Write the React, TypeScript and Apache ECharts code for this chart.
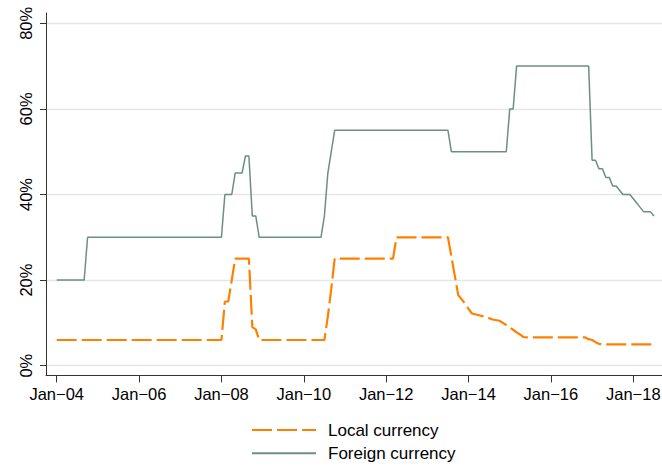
import React, { useEffect, useRef } from "react";
import * as echarts from "echarts";

// Months counted from Jan-2004 (0 = Jan-04)
const localMonths = [0, 48, 49, 50, 51, 52, 56, 57, 58, 59, 78, 79, 80, 81, 98, 99, 114, 115, 116, 117, 118, 119, 120, 121, 123, 125, 127, 129, 130, 131, 132, 133, 134, 135, 136, 137, 154, 155, 156, 157, 158, 159, 174];
const localValues = [6, 6, 15, 15, 20, 25, 25, 9, 8.5, 6, 6, 11.5, 18, 25, 25, 30, 30, 25.5, 21, 16.5, 15.5, 14.5, 13.3, 12.2, 11.8, 11.4, 10.8, 10.5, 10, 9.5, 8.9, 8.4, 7.8, 7.3, 6.7, 6.6, 6.6, 6.2, 6, 5.5, 5.1, 5, 5];

const foreignMonths = [0, 8, 9, 48, 49, 51, 52, 54, 55, 56, 57, 58, 59, 77, 78, 79, 80, 81, 114, 115, 131, 132, 133, 134, 155, 156, 157, 158, 159, 160, 161, 162, 163, 164, 165, 167, 168, 169, 170, 171, 173, 174];
const foreignValues = [20, 20, 30, 30, 40, 40, 45, 45, 49, 49, 35, 35, 30, 30, 35, 45, 50, 55, 55, 50, 50, 60, 60, 70, 70, 48, 48, 46, 46, 44, 44, 42, 42, 41, 40, 40, 39, 38, 37, 36, 36, 35];

const xTickMonths = [0, 24, 48, 72, 96, 120, 144, 168];
const xTickLabels = ["Jan\u221204", "Jan\u221206", "Jan\u221208", "Jan\u221210", "Jan\u221212", "Jan\u221214", "Jan\u221216", "Jan\u221218"];
const yTickValues = [0, 20, 40, 60, 80];

const seriesNames = ["Local currency", "Foreign currency"];

const FONT = "'Liberation Sans', Arial, Helvetica, sans-serif";

export default function App() {
  const ref = useRef<HTMLDivElement>(null);
  useEffect(() => {
    if (!ref.current) return;
    const chart = echarts.init(ref.current, null, { renderer: "svg" });
    const pair = (ms: number[], vs: number[]) => ms.map((m, i) => [m, vs[i]]);
    chart.setOption({
      animation: false,
      backgroundColor: "#ffffff",
      textStyle: { fontFamily: FONT },
      grid: {
        left: 46,
        top: 13,
        width: 618,
        height: 362.7,
        outerBoundsMode: "none",
        containLabel: false,
      },
      xAxis: {
        type: "value",
        min: -3.118,
        max: 176.95,
        axisLine: { show: true, onZero: false, lineStyle: { color: "#333", width: 1 } },
        axisTick: { show: true, length: 6.7, customValues: xTickMonths, lineStyle: { color: "#333", width: 1 } },
        axisLabel: {
          show: true,
          customValues: xTickMonths,
          margin: 10,
          color: "#000",
          fontSize: 16.5,
          fontFamily: FONT,
          formatter: (v: number) => {
            const i = xTickMonths.indexOf(Math.round(v));
            return i >= 0 ? xTickLabels[i] : "";
          },
        },
        splitLine: { show: false },
      },
      yAxis: {
        type: "value",
        min: -2.336,
        max: 82.41,
        axisLine: { show: true, onZero: false, lineStyle: { color: "#333", width: 1 } },
        axisTick: { show: true, length: 6, customValues: yTickValues, lineStyle: { color: "#333", width: 1 } },
        axisLabel: {
          show: true,
          customValues: yTickValues,
          rotate: 90,
          margin: 12,
          color: "#000",
          fontSize: 16.5,
          fontFamily: FONT,
          formatter: (v: number) => `${Math.round(v)}%`,
        },
        splitLine: { show: true, lineStyle: { color: "#e6e6e6", width: 1.3 } },
      },
      legend: {
        orient: "vertical",
        left: 251,
        top: 421.5,
        padding: 0,
        itemWidth: 64,
        itemHeight: 12,
        itemGap: 6.3,
        itemStyle: { opacity: 0, borderWidth: 0 },
        lineStyle: { opacity: 1 },
        textStyle: { fontSize: 17, color: "#000", fontFamily: FONT, padding: [0, 0, 0, 7] },
        data: seriesNames,
      },
      series: [
        {
          name: seriesNames[0],
          type: "line",
          data: pair(localMonths, localValues),
          symbol: "none",
          showSymbol: false,
          lineStyle: { color: "#ff8000", width: 2.2, type: [20, 5] },
          itemStyle: { color: "#ff8000" },
          z: 3,
        },
        {
          name: seriesNames[1],
          type: "line",
          data: pair(foreignMonths, foreignValues),
          symbol: "none",
          showSymbol: false,
          lineStyle: { color: "#6b8f83", width: 1.5, type: "solid" },
          itemStyle: { color: "#6b8f83" },
          z: 3,
        },
      ],
    });
    return () => chart.dispose();
  }, []);
  return (
    <div
      ref={ref}
      style={{ position: "absolute", left: 0, top: 0, width: 662, height: 468, background: "#fff" }}
    />
  );
}
